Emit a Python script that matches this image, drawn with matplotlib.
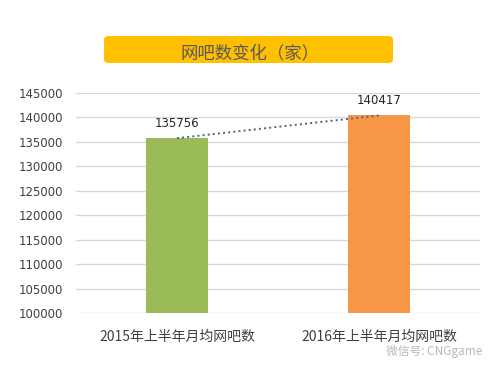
import matplotlib.pyplot as plt
from matplotlib.patches import FancyBboxPatch

plt.rcParams['font.family'] = ['Noto Sans CJK SC', 'DejaVu Sans']

categories = ['2015年上半年月均网吧数', '2016年上半年月均网吧数']
values = [135756, 140417]
colors = ['#9BBB59', '#F79646']
yticks = list(range(100000, 145001, 5000))
title = '网吧数变化（家）'

fig = plt.figure(figsize=(4.91, 3.69), dpi=100)
ax = fig.add_axes([76 / 491, 56 / 369, 404 / 491, 220 / 369])

x = range(len(categories))
ax.bar(x, values, width=0.31, color=colors, zorder=3)
ax.plot(x, values, linestyle=':', color='#4F6180', linewidth=1.4, zorder=4)

for xi, v in zip(x, values):
    ax.text(xi, v + 1700, str(v), ha='center', va='bottom', fontsize=8.5,
            color='#262626', family='DejaVu Sans')

ax.set_xlim(-0.5, 1.5)
ax.set_ylim(100000, 145000)
ax.set_yticks(yticks)
ax.set_yticklabels([str(t) for t in yticks], family='DejaVu Sans')
ax.set_xticks(list(x))
ax.set_xticklabels(categories, fontsize=10)
ax.grid(axis='y', color='#D9D9D9', linewidth=1, zorder=0)
for s in ax.spines.values():
    s.set_visible(False)
ax.tick_params(axis='y', length=0, pad=9, labelsize=8.5, labelcolor='#404040')
ax.tick_params(axis='x', length=0, pad=12, labelcolor='#404040')

# title box
box = FancyBboxPatch((104 / 491, 1 - 63 / 369), 289 / 491, 27 / 369,
                     boxstyle='round,pad=0,rounding_size=0.01',
                     transform=fig.transFigure, facecolor='#FFC000',
                     edgecolor='none')
fig.patches.append(box)
fig.text(250 / 491, 1 - 53 / 369, title, ha='center', va='center',
         fontsize=12.5, color='#595959')

# watermark
fig.text(386 / 491, 1 - 352 / 369, '微信号: CNGgame', ha='left', va='center',
         fontsize=8.5, color='#B8B8B8')

fig.savefig('out.png', dpi=100, facecolor='white')
